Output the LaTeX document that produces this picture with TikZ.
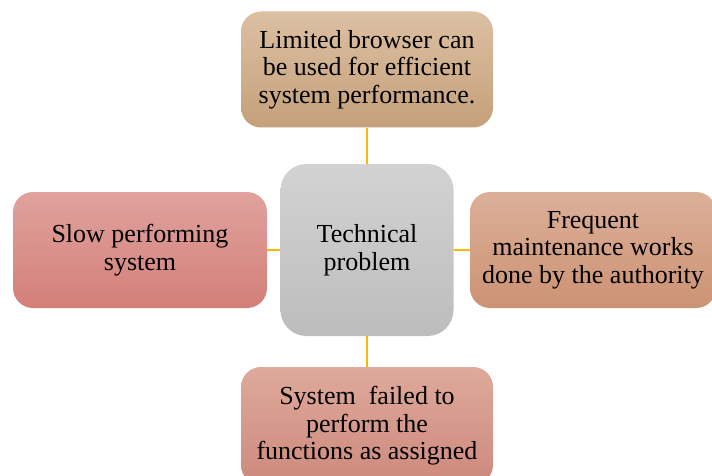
\documentclass[tikz,border=0pt]{standalone}
\usepackage{fontspec}
\setmainfont{Liberation Serif}
\definecolor{linkgold}{HTML}{F8B900}
\begin{document}
\begin{tikzpicture}[x=1pt, y=-1pt,
  every node/.style={rounded corners=20pt, align=center, inner sep=0pt, font=\fontsize{26}{27.5}\selectfont},
  outerbox/.style={minimum width=252pt, minimum height=116pt},
  link/.style={draw=linkgold, line width=2pt}]
\useasboundingbox (0,0) rectangle (712,476);
\node[minimum width=173pt, minimum height=172pt, rounded corners=26pt, top color=gray!35, bottom color=gray!52] (tech) at (367,250) {Technical\\problem};
\node[outerbox, top color={rgb,255:red,220;green,192;blue,162}, bottom color={rgb,255:red,196;green,160;blue,122}] (browser) at (367,69.5) {Limited browser can\\be used for efficient\\system performance.};
\node[outerbox, minimum width=254pt, top color={rgb,255:red,224;green,162;blue,158}, bottom color={rgb,255:red,211;green,127;blue,120}] (slow) at (140,250) {Slow performing\\system};
\node[outerbox, minimum width=246pt, top color={rgb,255:red,220;green,176;blue,152}, bottom color={rgb,255:red,204;green,146;blue,116}] (maint) at (593,250) {Frequent\\maintenance works\\done by the authority};
\node[outerbox, minimum height=118pt, top color={rgb,255:red,222;green,170;blue,155}, bottom color={rgb,255:red,205;green,137;blue,124}] (failed) at (367,426) {System\ \ failed to\\perform the\\functions as assigned};
\draw[link] (tech) -- (browser);
\draw[link] (tech) -- (slow);
\draw[link] (tech) -- (maint);
\draw[link] (tech) -- (failed);
\end{tikzpicture}
\end{document}
